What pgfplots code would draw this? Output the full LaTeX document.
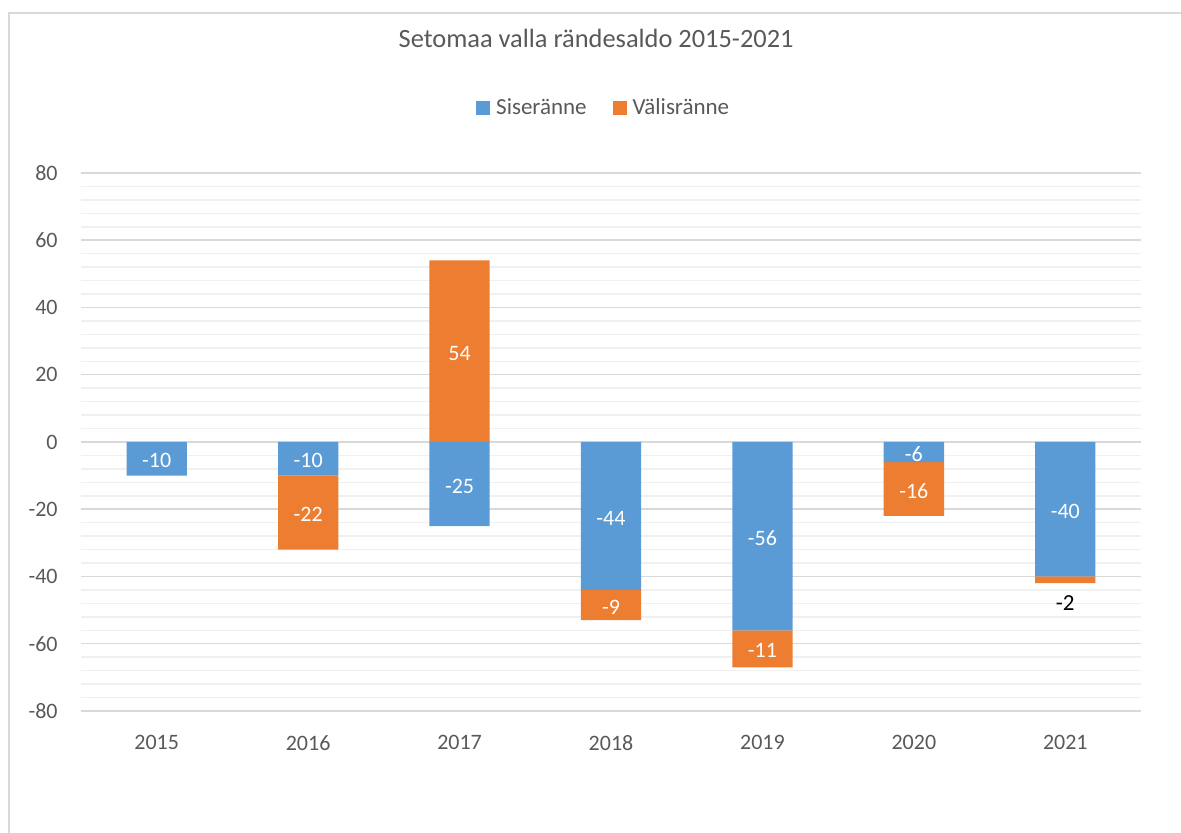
\documentclass[border=0pt]{standalone}
\usepackage{fontspec}
\setmainfont{Carlito}
\usepackage{pgfplots}
\pgfplotsset{compat=1.18}
\definecolor{sis}{HTML}{5B9BD5}
\definecolor{val}{HTML}{ED7D31}
\definecolor{txt}{HTML}{595959}
\definecolor{gmaj}{HTML}{D9D9D9}
\definecolor{gmin}{HTML}{F0F0F0}
\begin{document}
\begin{tikzpicture}
\useasboundingbox (0,0) rectangle (590.5pt,416.5pt);
\draw[gmaj, line width=1pt] (4.5pt,-5pt) -- (4.5pt,410pt) -- (600pt,410pt);
\pgfplotsset{base/.style={
  scale only axis, width=530pt, height=269pt, at={(40.5pt,61pt)}, anchor=south west,
  xmin=-0.5, xmax=6.5, ymin=-80, ymax=80,
}}
\begin{axis}[base,
  ybar stacked, bar width=0.398,
  axis line style={draw=none}, major tick length=0pt, minor tick length=0pt,
  ytick={-80,-60,-40,-20,0,20,40,60,80},
  yticklabels={-80,-60,-40,-20,0,20,40,60,80},
  minor y tick num=4,
  ymajorgrids, yminorgrids,
  major grid style={gmaj, line width=0.75pt},
  minor grid style={gmin, line width=0.75pt},
  xtick={0,1,2,3,4,5,6},
  xticklabels={2015,2016,2017,2018,2019,2020,2021},
  ticklabel style={font=\fontsize{11}{13}\selectfont, text=txt},
  yticklabel style={anchor=east, inner sep=0pt, xshift=-11.5pt},
  xticklabel style={anchor=north, inner sep=0pt, yshift=-12pt},
  title={Setomaa valla rändesaldo 2015-2021},
  title style={at={(axis description cs:0.486,1.2286)}, anchor=center, font=\fontsize{13.2}{15}\selectfont, text=txt},
  legend style={at={(axis description cs:0.495,1.1208)}, anchor=center, draw=none, fill=none,
    legend columns=2, font=\fontsize{11.5}{13}\selectfont, text=txt,
    nodes={inner xsep=3pt},
    /tikz/every even column/.append style={column sep=10pt}},
  every axis plot post/.append style={legend image code/.code={\fill[##1] (0pt,-3.5pt) rectangle (7pt,3.5pt);}},
]
\addplot[fill=sis, draw=none] coordinates {(0,-10) (1,-10) (2,-25) (3,-44) (4,-56) (5,-6) (6,-40)};
\addplot[fill=val, draw=none] coordinates {(0,0) (1,-22) (2,54) (3,-9) (4,-11) (5,-16) (6,-2)};
\legend{Siseränne, Välisränne}
\end{axis}
\begin{axis}[base, hide axis, clip=false]
\addplot[draw=none, mark=none, nodes near coords, point meta=explicit symbolic,
  every node near coord/.append style={anchor=center, text=white, font=\fontsize{11}{13}\selectfont, yshift=-1pt}]
  coordinates {(0,-5)[-10] (1,-5)[-10] (1,-21)[-22] (2,27)[54] (2,-12.5)[-25] (3,-22)[-44] (3,-48.5)[-9] (4,-28)[-56] (4,-61.5)[-11] (5,-3)[-6] (5,-14)[-16] (6,-20)[-40]};
\addplot[draw=none, mark=none, nodes near coords, point meta=explicit symbolic,
  every node near coord/.append style={anchor=center, text=black, font=\fontsize{11.5}{13}\selectfont}]
  coordinates {(6,-47.9)[-2]};
\end{axis}
\end{tikzpicture}
\end{document}
